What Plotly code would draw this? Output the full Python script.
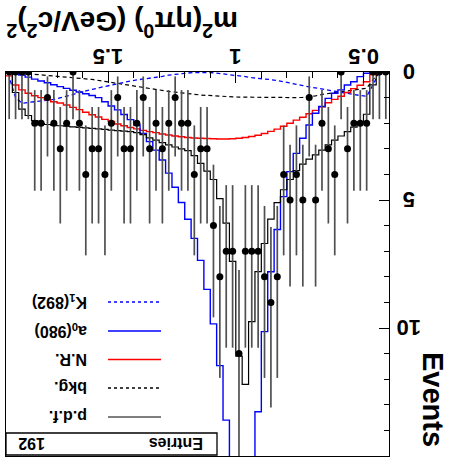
import numpy as np
import plotly.graph_objects as go

# ---- binning of m^2(eta pi0) ----
m2_low, m2_high, n_bins = 0.4, 1.9, 60

# observed events per bin
counts = [0, 0, 0, 2, 2, 2, 3, 0, 4, 3,
          2, 5, 1, 5, 4, 5, 4, 8, 9, 8,
          7, 7, 7, 11, 7, 7, 8, 6, 3, 3,
          4, 2, 2, 1, 2, 3, 2, 3, 1, 2,
          3, 3, 1, 2, 4, 3, 3, 4, 2, 0,
          2, 3, 2, 1, 2, 2, 0, 0, 0, 0]

# fitted p.d.f. projection and its components (events per bin)
pdf = [0, 0, 0.5, 1.65, 1.95, 2.15, 2.33, 2.5, 2.66, 2.85,
       3.05, 3.24, 3.4, 3.6, 3.85, 4.2, 4.6, 5.1, 5.75, 6.7,
       7.8, 9.75, 12.2, 11.1, 7.4, 5.9, 4.95, 4.2, 3.87, 3.57,
       3.27, 3.07, 3.0, 2.93, 2.85, 2.76, 2.66, 2.57, 2.45, 2.37,
       2.33, 2.31, 2.29, 2.27, 2.24, 2.22, 2.2, 2.18, 2.16, 2.14,
       2.12, 2.1, 2.08, 2.05, 2.02, 1.9, 1.7, 1.45, 0.8, 0.05]

bkg = [0, 0, 0.3, 0.63, 0.67, 0.71, 0.74, 0.77, 0.8, 0.83,
       0.88, 0.93, 0.97, 0.99, 1.0, 1.0, 1.0, 1.0, 1.0, 1.0,
       1.0, 0.99, 0.99, 0.98, 0.97, 0.96, 0.95, 0.94, 0.92, 0.9,
       0.87, 0.85, 0.82, 0.79, 0.76, 0.72, 0.68, 0.64, 0.6, 0.56,
       0.52, 0.48, 0.44, 0.4, 0.36, 0.32, 0.29, 0.27, 0.24, 0.22,
       0.2, 0.18, 0.16, 0.14, 0.12, 0.1, 0.08, 0.05, 0.02, 0.0]

nonres = [0, 0, 0.1, 0.38, 0.52, 0.65, 0.8, 0.95, 1.07, 1.2,
          1.36, 1.5, 1.63, 1.77, 1.88, 2.0, 2.12, 2.23, 2.32, 2.4,
          2.47, 2.52, 2.56, 2.59, 2.61, 2.62, 2.62, 2.61, 2.6, 2.59,
          2.58, 2.56, 2.53, 2.5, 2.46, 2.42, 2.37, 2.33, 2.28, 2.22,
          2.17, 2.1, 2.03, 1.93, 1.85, 1.76, 1.67, 1.57, 1.47, 1.38,
          1.29, 1.21, 1.16, 1.08, 1.0, 0.93, 0.83, 0.7, 0.51, 0.15]

a0_980 = [0, 0, 0, 0.05, 0.18, 0.38, 0.51, 0.7, 0.83, 1.03,
          1.35, 1.61, 2.07, 2.59, 3.18, 3.89, 4.87, 6.15, 7.8, 10.14,
          13.27, 18.0, 20.5, 19.0, 16.5, 13.6, 11.47, 9.84, 8.49, 7.36,
          6.5, 5.75, 5.1, 4.5, 3.95, 3.44, 3.05, 2.72, 2.4, 2.07,
          1.86, 1.66, 1.48, 1.33, 1.16, 1.0, 0.92, 0.85, 0.78, 0.71,
          0.64, 0.57, 0.5, 0.42, 0.35, 0.28, 0.2, 0.12, 0.05, 0]

k1_892 = [0, 0, 0.5, 0.95, 0.92, 0.88, 0.84, 0.8, 0.76, 0.71,
          0.67, 0.63, 0.58, 0.53, 0.48, 0.43, 0.37, 0.33, 0.3, 0.28,
          0.26, 0.22, 0.18, 0.15, 0.12, 0.08, 0.05, 0.03, 0.02, 0.01,
          0.02, 0.04, 0.06, 0.09, 0.12, 0.17, 0.2, 0.25, 0.28, 0.31,
          0.35, 0.4, 0.46, 0.5, 0.56, 0.62, 0.68, 0.73, 0.8, 0.88,
          0.95, 1.02, 1.07, 1.1, 1.13, 1.16, 1.2, 1.22, 1.0, 0.2]

# 68.3% Poisson (Garwood) interval bounds, indexed by observed count
poisson_lo = [0.0, 0.173, 0.708, 1.367, 2.086, 2.840, 3.620, 4.419,
              5.232, 6.057, 6.891, 7.734, 8.585, 9.441]
poisson_hi = [1.841, 3.300, 4.638, 5.918, 7.163, 8.382, 9.584, 10.77,
              11.95, 13.11, 14.27, 15.42, 16.56, 17.70]

x_tick_vals = [0.5, 1.0, 1.5]
x_tick_text = ["0.5", "1", "1.5"]
x_minor_vals = [0.4, 0.5, 0.6, 0.7, 0.8, 0.9, 1.0, 1.1, 1.2, 1.3, 1.4,
                1.5, 1.6, 1.7, 1.8, 1.9]
y_tick_vals = [0, 5, 10]
y_tick_text = ["0", "5", "10"]
y_minor_vals = list(range(0, 16))

legend_labels = ["K<sub>1</sub>(892)", "a<sub>0</sub>(980)", "N.R.", "bkg.", "p.d.f."]
legend_colors = ["#0000ff", "#0000ff", "#ff0000", "#000000", "#555555"]
legend_dash = ["dot", "solid", "solid", "dot", "solid"]

entries = 192

# ---- canvas geometry (pixels) ----
W, H = 451, 465
FL, FR, FT, FB = 6, 389, 72, 456


def px(xp):
    return (xp - FL) / (FR - FL)


def py(yp):
    return (FB - yp) / (FB - FT)


edges = np.linspace(m2_low, m2_high, n_bins + 1)
centers = 0.5 * (edges[:-1] + edges[1:])


def step_trace(vals, color, width, dash="solid"):
    return go.Scatter(x=edges, y=list(vals) + [vals[-1]], mode="lines",
                      line=dict(color=color, width=width, shape="hv", dash=dash),
                      hoverinfo="skip", showlegend=False)


fig = go.Figure()

fig.add_trace(go.Scatter(x=centers, y=bkg, mode="lines",
                         line=dict(color="black", width=1.2, dash="4px,3px"),
                         showlegend=False))
fig.add_trace(go.Scatter(x=centers, y=k1_892, mode="lines",
                         line=dict(color="#0000ff", width=1.3, dash="4px,3px"),
                         showlegend=False))
fig.add_trace(step_trace(nonres, "#ff0000", 1.4))
fig.add_trace(step_trace(a0_980, "#0000ff", 1.4))
fig.add_trace(step_trace(pdf, "black", 1.2))

err_plus = [poisson_hi[n] - n for n in counts]
err_minus = [n - poisson_lo[n] for n in counts]
fig.add_trace(go.Scatter(
    x=centers, y=counts, mode="markers",
    marker=dict(color="black", size=7, symbol="circle"),
    error_y=dict(type="data", symmetric=False, array=err_plus,
                 arrayminus=err_minus, color="#505050", thickness=1.7, width=0),
    showlegend=False))

font_family = "Liberation Sans, Arial, Helvetica, sans-serif"
annotations = []
for v, t in zip(x_tick_vals, x_tick_text):
    annotations.append(dict(x=v, xref="x", y=py(57), yref="paper", text=t,
                            textangle=180, showarrow=False,
                            font=dict(family=font_family, size=22, color="black", weight="bold"),
                            xanchor="center", yanchor="middle"))
for v, t in zip(y_tick_vals, y_tick_text):
    annotations.append(dict(x=px(409), xref="paper", y=v, yref="y", text=t,
                            textangle=180, showarrow=False,
                            font=dict(family=font_family, size=22, color="black", weight="bold"),
                            xanchor="center", yanchor="middle"))

annotations.append(dict(x=px(122), xref="paper", y=py(24), yref="paper",
                        text="m<sup>2</sup>(ηπ<sup>0</sup>) (GeV/c<sup>2</sup>)<sup>2</sup>",
                        textangle=180, showarrow=False,
                        font=dict(family=font_family, size=28, color="black", weight="bold"),
                        xanchor="center", yanchor="middle"))
annotations.append(dict(x=px(433), xref="paper", y=py(400), yref="paper",
                        text="Events", textangle=90, showarrow=False,
                        font=dict(family=font_family, size=29, color="black", weight="bold"),
                        xanchor="center", yanchor="middle"))

legend_rows = [302, 331, 359.5, 388, 417]
shapes = []
for lab, col, dsh, yr in zip(legend_labels, legend_colors, legend_dash, legend_rows):
    annotations.append(dict(x=px(89), xref="paper", y=py(yr), yref="paper",
                            text=lab, textangle=180, showarrow=False,
                            font=dict(family=font_family, size=16, color="black", weight="bold"),
                            xanchor="right", yanchor="middle"))
    shapes.append(dict(type="line", xref="paper", yref="paper",
                       x0=px(108), x1=px(161), y0=py(yr), y1=py(yr),
                       line=dict(color=col, width=1.5 if dsh == "solid" else 1.3,
                                 dash="solid" if dsh == "solid" else "3px,3px")))

# statistics box
shapes.append(dict(type="rect", xref="paper", yref="paper",
                   x0=px(6), x1=px(217), y0=py(455), y1=py(433),
                   fillcolor="white", line=dict(color="black", width=1.3)))
annotations.append(dict(x=px(205), xref="paper", y=py(444), yref="paper",
                        text="Entries", textangle=180, showarrow=False,
                        font=dict(family=font_family, size=16, color="black", weight="bold"),
                        xanchor="right", yanchor="middle"))
annotations.append(dict(x=px(16), xref="paper", y=py(444), yref="paper",
                        text=str(entries), textangle=180, showarrow=False,
                        font=dict(family=font_family, size=16, color="black", weight="bold"),
                        xanchor="left", yanchor="middle"))

fig.update_layout(
    width=W, height=H,
    margin=dict(l=FL, r=W - FR, t=FT, b=H - FB),
    paper_bgcolor="white", plot_bgcolor="white",
    showlegend=False,
    annotations=annotations,
    shapes=shapes,
    xaxis=dict(range=[m2_high, m2_low], side="top", showgrid=False, zeroline=False,
               showline=True, linecolor="black", linewidth=1, mirror=True,
               ticks="inside", tickvals=x_tick_vals, ticklen=11, tickcolor="black",
               showticklabels=False,
               minor=dict(ticks="inside", tickvals=x_minor_vals, ticklen=6,
                          tickcolor="black", showgrid=False)),
    yaxis=dict(range=[15, 0], side="right", showgrid=False, zeroline=False,
               showline=True, linecolor="black", linewidth=1, mirror=True,
               ticks="inside", tickvals=y_tick_vals, ticklen=10, tickcolor="black",
               showticklabels=False,
               minor=dict(ticks="inside", tickvals=y_minor_vals, ticklen=5,
                          tickcolor="black", showgrid=False)),
)

fig.write_html("out.html")
